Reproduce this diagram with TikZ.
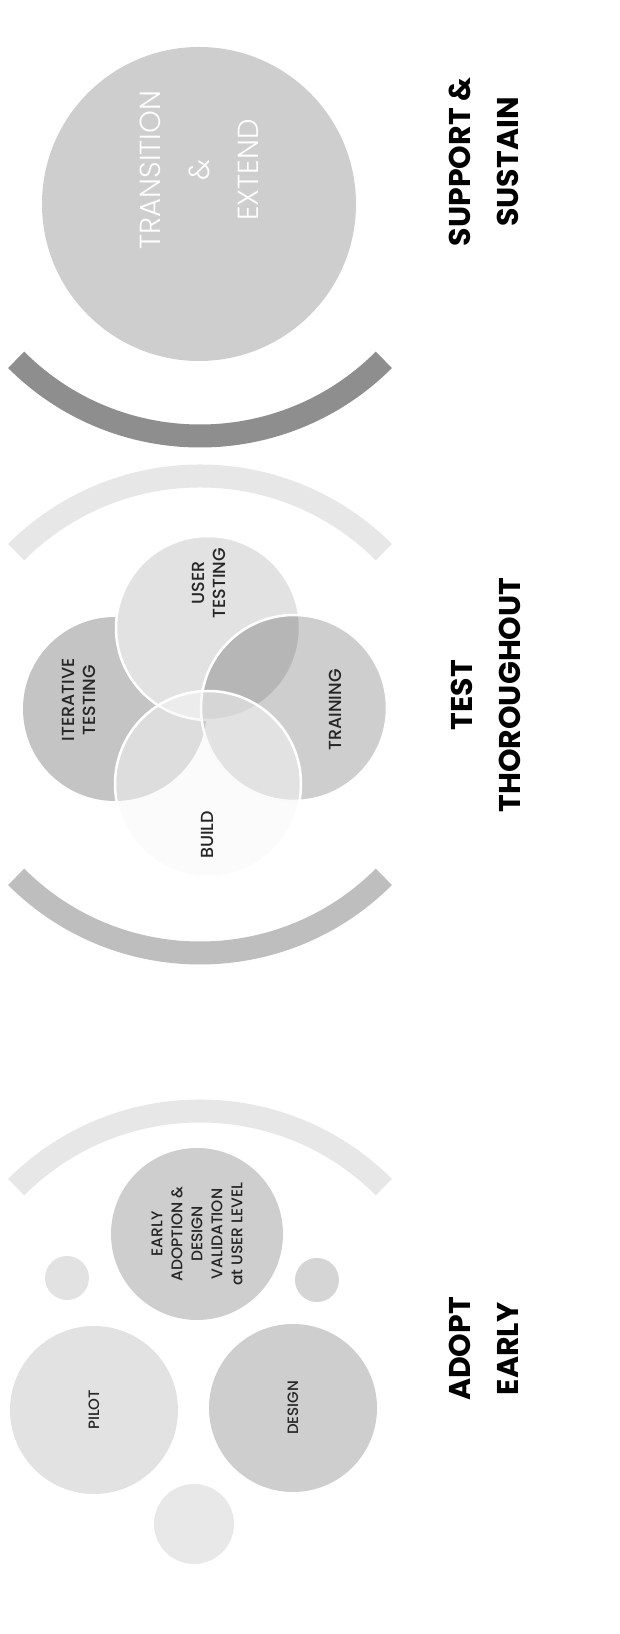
\documentclass[tikz,border=0pt]{standalone}
\usepackage{fontspec}
\setmainfont{Poppins}
\newfontfamily\labelfont{Poppins Medium}
\newfontfamily\thinfont{Poppins Light}
\usepackage{xcolor}
\usepackage{tikz}
\definecolor{ArcDark}{HTML}{8E8E8E}
\definecolor{ArcMid}{HTML}{BEBEBE}
\definecolor{ArcLight}{HTML}{E7E7E7}
\definecolor{BubbleDark}{HTML}{C4C4C4}
\definecolor{BubbleMid}{HTML}{CECECE}
\definecolor{BubbleLight}{HTML}{E2E2E2}
\definecolor{BubblePale}{HTML}{E8E8E8}

\begin{document}
\begin{tikzpicture}[
  x=1pt, y=1pt,
  bubble/.style={circle, inner sep=0pt, minimum size=#1},
  ring/.style={draw=white, line width=2.5pt},
  band/.style={line width=23pt},
  lbl/.style={rotate=90, align=center, text=black!85, font=\labelfont\fontsize{17.5}{21}\selectfont},
  phase/.style={rotate=90, align=center, font=\fontsize{30}{48}\selectfont\bfseries}
]
\useasboundingbox (0,0) rectangle (620,1634);

% support & sustain
\node[bubble=314pt, fill=BubbleMid] (transition) at (199,1430) {};
\node[lbl, text=white, font=\thinfont\fontsize{29}{49}\selectfont] (transtext) at (199,1464) {TRANSITION\\\&\\EXTEND};
\coordinate (c1) at (200,1458);
\draw[band, ArcDark] (c1) ++(225:260) arc[start angle=225, end angle=315, radius=260];

% test throughout
\coordinate (c2) at (200,898);
\coordinate (c3) at (200,941);
\draw[band, ArcLight] (c2) ++(45:260) arc[start angle=45, end angle=135, radius=260];
\draw[band, ArcMid] (c3) ++(225:260) arc[start angle=225, end angle=315, radius=260];

\node[bubble=184pt, fill=BubbleDark] (iter) at (115,925) {};
\node[bubble=184pt, fill=BubbleLight, ring] (user) at (208,1006) {};
\node[bubble=186pt, fill=BubbleMid, blend mode=multiply] (train) at (294,926) {};
\draw[ring] (train.center) circle[radius=93];
\node[bubble=186pt, fill=gray!6, fill opacity=0.5, ring] (build) at (208,850) {};

\node[lbl] (itertext) at (79,934) {ITERATIVE\\TESTING};
\node[lbl] (usertext) at (209,1051) {USER\\TESTING};
\node[lbl] (traintext) at (335,924) {TRAINING};
\node[lbl] (buildtext) at (207,799) {BUILD};

% adopt early
\coordinate (c4) at (200,263);
\draw[band, ArcLight] (c4) ++(45:260) arc[start angle=45, end angle=135, radius=260];

\node[bubble=172pt, fill=BubbleMid, lbl, font=\labelfont\fontsize{15.5}{20}\selectfont] (early) at (197,400) {EARLY\\ADOPTION \&\\DESIGN\\VALIDATION\\at USER LEVEL};
\node[bubble=44pt, fill=BubbleLight] (dotl) at (67,356) {};
\node[bubble=44pt, fill=BubbleMid!85] (dotr) at (317,354) {};
\node[bubble=168pt, fill=BubbleLight, lbl, font=\labelfont\fontsize{15}{20}\selectfont] (pilot) at (94,224) {PILOT};
\node[bubble=168pt, fill=BubbleMid, lbl, font=\labelfont\fontsize{15}{20}\selectfont] (design) at (293,226) {DESIGN};
\node[bubble=80pt, fill=BubblePale] (dotb) at (194,110) {};

% phases
\node[phase] (support) at (484,1472) {SUPPORT \&\\SUSTAIN};
\node[phase] (test) at (486,939) {TEST\\THOROUGHOUT};
\node[phase] (adopt) at (484,285) {ADOPT\\EARLY};
\end{tikzpicture}
\end{document}
